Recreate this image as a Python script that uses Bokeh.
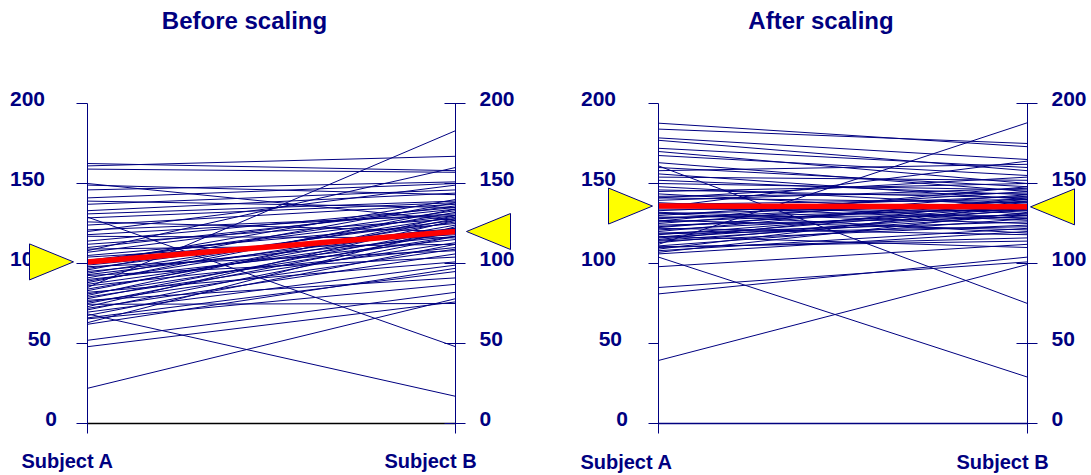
from bokeh.plotting import figure
from bokeh.layouts import row
from bokeh.models import (LinearAxis, FixedTicker, Label, ColumnDataSource,
                          Range1d, Grid, CustomJSTickFormatter)
from bokeh.embed import file_html
from bokeh.resources import INLINE

NAVY = "#000080"
FONT = "Liberation Sans"

# ---------------- data ----------------
subjects = ["Subject A", "Subject B"]
titles = ["Before scaling", "After scaling"]
y_ticks = [0, 50, 100, 150, 200]

before_a = [162.5, 161, 159, 150, 149, 146, 141, 139, 137, 133, 131, 129, 128.5, 126, 124,
            121, 120, 118, 117, 114, 112, 110, 109, 107, 105, 104, 102, 101, 99, 98, 97, 96,
            95, 94, 93, 92.5, 91, 90, 89, 88, 87, 86, 85, 84, 83, 82, 81, 80, 79, 78, 77, 76,
            75, 74.5, 73, 72, 71, 69.6, 68.5, 67.5, 66, 65.4, 63, 62, 52, 48, 22, 100, 108]
before_b = [158, 167, 157, 127, 143, 151, 150, 135, 146, 144, 139, 48, 138, 120, 137,
            130, 149, 131, 116, 135, 128, 134, 112, 136, 125, 118, 130, 133, 122, 108, 127, 138,
            117, 129, 121, 104, 132, 115, 126, 134, 119, 110, 183, 124, 128, 101, 117, 130, 113,
            122, 91, 109, 120, 75, 127, 106, 117, 99, 17, 112, 95, 87, 123, 97, 82, 76, 78, 140, 160]

after_a = [187.7, 184, 178.5, 177, 172, 170, 167.5, 163, 161, 160, 158, 156, 154, 152, 150,
           148, 146, 145, 143.5, 142, 141, 139.5, 138, 137, 134, 133, 132, 131, 130, 129, 128,
           127, 126, 125, 124, 123, 122, 121, 120, 119, 118, 117, 116, 115, 114, 113, 112, 111,
           110, 109, 108, 104, 98, 85, 81, 39.4, 106, 107, 135, 141, 136, 128.5, 122.5, 118.5,
           114.5, 126.5, 131.5, 116.5, 110.5]
after_b = [173, 175, 165, 158, 160, 150, 155, 145, 75, 148, 162, 140, 152, 143, 146,
           136, 141, 150, 131, 144, 138, 147, 128, 140, 133, 142, 125, 137, 145, 130, 139,
           121, 135, 143, 129, 138, 118, 133, 141, 126, 136, 110, 131, 139, 124, 134, 188, 128,
           116, 137, 122, 29, 112, 101, 104, 99.4, 120, 132, 164, 154, 127, 134, 140, 123,
           130, 148, 119, 135, 114]

mean_before = [101, 120]
mean_after = [135.9, 135.4]

HEIGHT = 474
PX_PER_UNIT_Y = 1.6
ZERO_PX = 423          # page y of value 0


def make_panel(title, a_vals, b_vals, means, width, page_left, border_left, border_right,
               axis_side, a_px, b_px, zero_color, title_dx, subj_dx, subj_dy, tri_off):
    ppu = float(b_px - a_px)                     # pixels per x-unit (A=0, B=1)
    fx0 = page_left + border_left
    fx1 = page_left + width - border_right
    x_range = Range1d((fx0 - a_px) / ppu, (fx1 - a_px) / ppu)
    y_range = Range1d((ZERO_PX - HEIGHT) / PX_PER_UNIT_Y, ZERO_PX / PX_PER_UNIT_Y)

    p = figure(width=width, height=HEIGHT, x_range=x_range, y_range=y_range,
               output_backend="svg", toolbar_location=None,
               x_axis_location=None, y_axis_location=None,
               min_border_left=border_left, min_border_right=border_right,
               min_border_top=0, min_border_bottom=0,
               outline_line_color=None, background_fill_color="white",
               border_fill_color="white")
    for r in list(p.center):
        if isinstance(r, Grid):
            r.visible = False

    blank = CustomJSTickFormatter(code="return ''")
    if axis_side == "right":
        a_in, a_out, b_in, b_out = 11, 0, 11, 10
    else:
        a_in, a_out, b_in, b_out = 0, 10, 10, 11
    for loc, t_in, t_out in ((0, a_in, a_out), (1, b_in, b_out)):
        ax = LinearAxis(ticker=FixedTicker(ticks=y_ticks), formatter=blank,
                        fixed_location=loc, bounds=(-6.25, 200),
                        major_tick_out=t_out, major_tick_in=t_in,
                        minor_tick_out=0, minor_tick_in=0,
                        axis_line_color=NAVY, major_tick_line_color=NAVY,
                        major_label_standoff=0)
        p.add_layout(ax, axis_side)

    # zero baseline between the two axes
    p.segment(x0=0, y0=0, x1=1, y1=0, line_color=zero_color, line_width=1.5)

    src = ColumnDataSource(dict(a=a_vals, b=b_vals))
    p.segment(x0=0, y0="a", x1=1, y1="b", source=src, line_color=NAVY, line_width=1)

    p.segment(x0=0, y0=means[0], x1=1, y1=means[1], line_color="#FF0000", line_width=5.5)

    # mean markers (yellow triangles), sizes in pixels converted to data units
    dx = 1.0 / ppu
    dy = 1.0 / PX_PER_UNIT_Y
    depth, half_h = 44, 18
    ta, tb = tri_off
    xs = [[-ta * dx, -(ta + depth) * dx, -(ta + depth) * dx],
          [1 + tb * dx, 1 + (tb + depth) * dx, 1 + (tb + depth) * dx]]
    ys = [[means[0], means[0] + half_h * dy, means[0] - half_h * dy],
          [means[1], means[1] + half_h * dy, means[1] - half_h * dy]]
    p.patches(xs=xs, ys=ys, fill_color="#FFFF00", line_color=NAVY, line_width=1,
              level="overlay")

    # tick labels
    for t in y_ticks:
        s = str(t)
        p.add_layout(Label(x=0, y=t, text=s, text_align="right", text_baseline="middle",
                           x_offset=-(42.5 - (3 - len(s)) * 6), y_offset=5,
                           text_font=FONT, text_font_style="bold", text_font_size="21px",
                           text_color=NAVY))
        p.add_layout(Label(x=1, y=t, text=s, text_align="left", text_baseline="middle",
                           x_offset=24, y_offset=4.5,
                           text_font=FONT, text_font_style="bold", text_font_size="21px",
                           text_color=NAVY))

    # subject labels
    for i, name in enumerate(subjects):
        p.add_layout(Label(x=i, y=0, text=name, text_align="center",
                           text_baseline="middle", x_offset=subj_dx[i], y_offset=subj_dy,
                           text_font=FONT, text_font_style="bold", text_font_size="20px",
                           text_color=NAVY))

    # title
    p.add_layout(Label(x=0.5, y=200, text=title, text_align="center",
                       text_baseline="middle", x_offset=title_dx, y_offset=83,
                       text_font=FONT, text_font_style="bold", text_font_size="24px",
                       text_color=NAVY))
    return p


p1 = make_panel(titles[0], before_a, before_b, mean_before, 545, 0, 0, 25, "right",
                87, 455, "#000000", -27, (-20, -25), -37, (14, 11))
p2 = make_panel(titles[1], after_a, after_b, mean_after, 544, 545, 25, 0, "left",
                658, 1027, NAVY, -22, (-32, -25), -38, (6, 3))

layout = row(p1, p2)
open("out.html", "w").write(file_html(layout, INLINE))
